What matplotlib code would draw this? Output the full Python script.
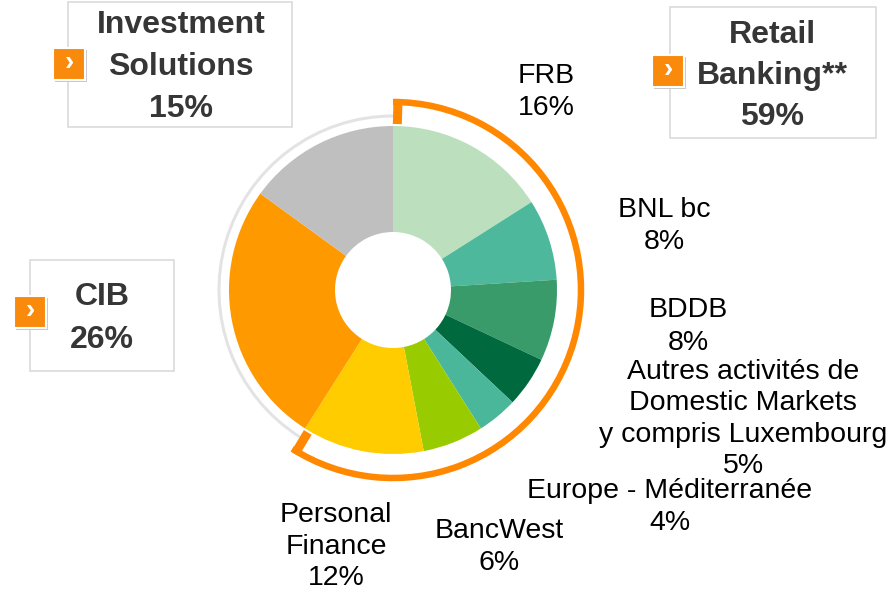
import matplotlib
matplotlib.use("Agg")
import matplotlib.pyplot as plt
from matplotlib.patches import Arc, Rectangle
import numpy as np

plt.rcParams['font.family'] = ['Liberation Sans', 'DejaVu Sans']

# ---------------- data ----------------
segments = ["FRB", "BNL bc", "BDDB",
            "Autres activités de\nDomestic Markets\ny compris Luxembourg",
            "Europe - Méditerranée", "BancWest", "Personal\nFinance",
            "CIB", "Investment\nSolutions"]
shares = [16, 8, 8, 5, 4, 6, 12, 26, 15]
colors = ["#bcdfbd", "#4db89b", "#389b69", "#00693e", "#4ab79a",
          "#99cc00", "#ffcc00", "#ff9900", "#bfbfbf"]

groups = ["Investment\nSolutions", "Retail\nBanking**", "CIB"]
group_shares = [15, 59, 26]

W, H = 893, 590
fig = plt.figure(figsize=(W / 100, H / 100), dpi=100)
ax = fig.add_axes([0, 0, 1, 1])

def Y(py):
    return H - py

cx, cy = 393, Y(290)
R_out, R_in = 164, 58

ax.pie(shares, colors=colors, startangle=90, counterclock=False,
       center=(cx, cy), radius=R_out,
       wedgeprops=dict(width=R_out - R_in, linewidth=0))
ax.set_xlim(0, W)
ax.set_ylim(0, H)
ax.set_aspect('equal')
ax.axis('off')

# retail banking share -> arc span
retail_n = 7
retail_sum = sum(shares[:retail_n])
end_angle = 90 - retail_sum / sum(shares) * 360

# gray ring for non-retail part
ax.add_patch(Arc((cx, cy), 2 * 174, 2 * 174, theta1=90, theta2=end_angle + 360,
                 color="#e3e3e3", lw=3 * 0.72, zorder=1))
# orange arc for retail
r_arc = 188
ax.add_patch(Arc((cx, cy), 2 * r_arc, 2 * r_arc, theta1=end_angle, theta2=90,
                 color="#ff8800", lw=6.5 * 0.72, zorder=3))
for ang in (90 - 1.5, end_angle + 1.5):
    a = np.deg2rad(ang)
    r0, r1 = 166, r_arc + 3
    ax.plot([cx + r0 * np.cos(a), cx + r1 * np.cos(a)],
            [cy + r0 * np.sin(a), cy + r1 * np.sin(a)],
            color="#ff8800", lw=9 * 0.72, solid_capstyle='butt', zorder=3)

# ---------------- segment labels ----------------
seg_pos = [(546, 83, 32), (664, 217, 32), (688, 317, 33), (743, 379, 31.3),
           (670, 498, 32), (499, 538, 32), (336, 522, 31.5)]
for i in range(retail_n):
    x, b, sp = seg_pos[i]
    lines = segments[i].split("\n") + [f"{shares[i]}%"]
    for j, ln in enumerate(lines):
        ax.text(x, Y(b + j * sp), ln, ha='center', va='baseline',
                fontsize=20.5, color="black")

# ---------------- group boxes ----------------
boxes = [(68, 2, 292, 127), (670, 7, 876, 138), (30, 260, 174, 371)]
text_pos = [(181, 33, 42), (772, 43, 41), (102, 305, 43)]
markers = [(53, 48), (652, 55), (14, 296)]
for k in range(3):
    x0, y0, x1, y1 = boxes[k]
    ax.add_patch(Rectangle((x0, Y(y1)), x1 - x0, y1 - y0, fill=False,
                           ec="#d9d9d9", lw=1.6 * 0.72, zorder=4))
    x, b, sp = text_pos[k]
    lines = groups[k].split("\n") + [f"{group_shares[k]}%"]
    for j, ln in enumerate(lines):
        ax.text(x, Y(b + j * sp), ln, ha='center', va='baseline',
                fontsize=23, fontweight='bold', color="#363636", zorder=5)
    mx, my = markers[k]
    s = 32
    ax.add_patch(Rectangle((mx + 2, Y(my + s + 2)), s, s, fc="#c8c8c8",
                           ec='none', zorder=5))
    ax.add_patch(Rectangle((mx, Y(my + s)), s, s, fc="#f98a0c",
                           ec='white', lw=1.5, zorder=6))
    ax.text(mx + s / 2, Y(my + s / 2) + 1, "›", ha='center', va='center',
            fontsize=20, fontweight='bold', color='white', zorder=7)

fig.savefig("out.png", dpi=100)
